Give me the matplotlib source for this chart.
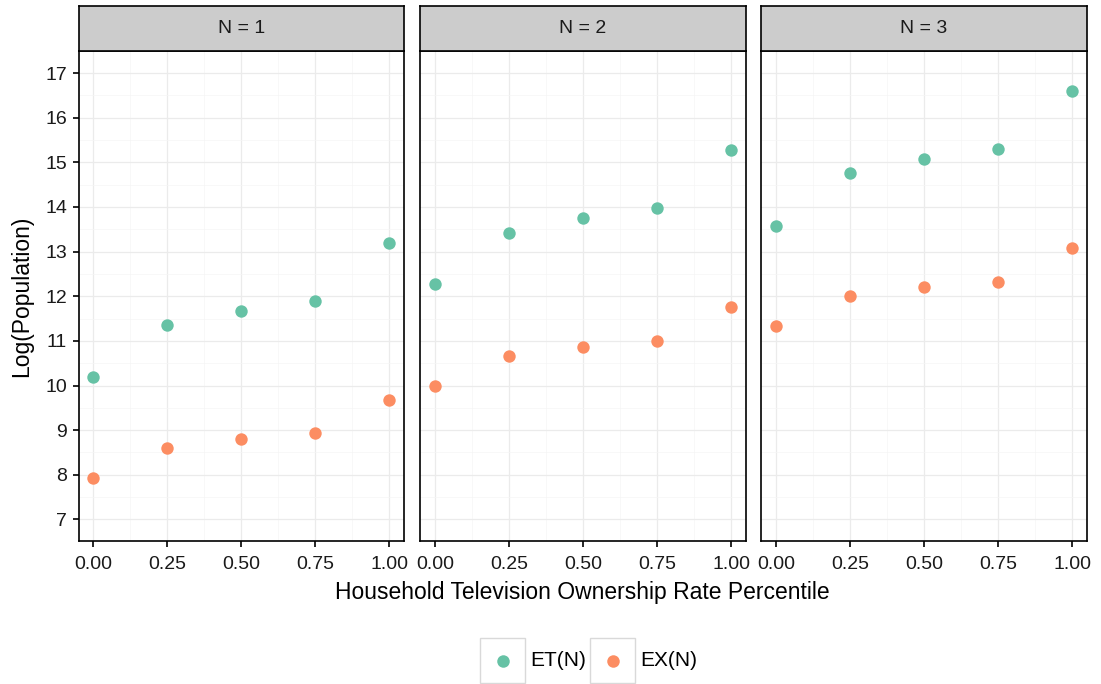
import numpy as np
import matplotlib.pyplot as plt
from matplotlib.patches import Rectangle

plt.rcParams['font.family'] = ['Liberation Sans', 'DejaVu Sans']

# Données
percentiles = [0.00, 0.25, 0.50, 0.75, 1.00]
panels = ['N = 1', 'N = 2', 'N = 3']
et_values = [
    [10.20, 11.35, 11.68, 11.90, 13.20],
    [12.27, 13.42, 13.75, 13.97, 15.27],
    [13.58, 14.75, 15.07, 15.30, 16.60],
]
ex_values = [
    [7.93, 8.60, 8.80, 8.93, 9.68],
    [10.00, 10.67, 10.87, 11.00, 11.75],
    [11.33, 12.00, 12.20, 12.32, 13.08],
]
series_names = ['ET(N)', 'EX(N)']
colors = ['#66C2A5', '#FC8D62']

W, H = 1101, 684
fig = plt.figure(figsize=(W / 100, H / 100), dpi=100)

lefts = [78.7, 420.3, 761.3]
pw = 325.5
top, bottom = 50.7, 541.3
strip_top = 5.7

for i, name in enumerate(panels):
    ax = fig.add_axes([lefts[i] / W, (H - bottom) / H, pw / W, (bottom - top) / H])
    ax.scatter(percentiles, et_values[i], s=80, color=colors[0], zorder=3, linewidths=0)
    ax.scatter(percentiles, ex_values[i], s=80, color=colors[1], zorder=3, linewidths=0)
    ax.set_xlim(-0.05, 1.05)
    ax.set_ylim(6.51, 17.5)
    ax.set_xticks(percentiles)
    ax.set_xticklabels([f'{p:.2f}' for p in percentiles])
    ax.set_xticks(np.arange(0.125, 1.0, 0.25), minor=True)
    ax.set_yticks(range(7, 18))
    ax.set_yticks(np.arange(7.5, 17.5, 1.0), minor=True)
    ax.grid(True, which='major', color='#EBEBEB', linewidth=0.9, zorder=0)
    ax.grid(True, which='minor', color='#F5F5F5', linewidth=0.5, zorder=0)
    ax.set_axisbelow(True)
    ax.tick_params(which='major', length=4.5, width=1.2, color='black', labelsize=14, labelcolor='#1A1A1A', pad=4)
    ax.tick_params(axis='x', which='major', pad=6)
    ax.tick_params(which='minor', length=0)
    if i > 0:
        ax.tick_params(axis='y', which='major', left=False, labelleft=False)
    for sp in ax.spines.values():
        sp.set_color('black')
        sp.set_linewidth(1.2)
    # bandeau
    sax = fig.add_axes([lefts[i] / W, (H - top) / H, pw / W, (top - strip_top) / H])
    sax.set_facecolor('#CCCCCC')
    sax.set_xticks([])
    sax.set_yticks([])
    for sp in sax.spines.values():
        sp.set_color('black')
        sp.set_linewidth(1.2)
    sax.text(0.5, 0.5, name, ha='center', va='center', fontsize=14, color='#1A1A1A', transform=sax.transAxes)

fig.text((lefts[0] + lefts[2] + pw) / 2 / W, 1 - 592 / H, 'Household Television Ownership Rate Percentile',
         ha='center', va='center', fontsize=16.5)
fig.text(22 / W, 1 - (top + bottom) / 2 / H, 'Log(Population)', ha='center', va='center',
         rotation=90, fontsize=16.5)

# Légende
key_x = [480, 590]
for k, label in enumerate(series_names):
    x0 = key_x[k]
    fig.patches.append(Rectangle((x0 / W, 1 - 683 / H), 45 / W, 45 / H, transform=fig.transFigure,
                                 facecolor='white', edgecolor='#D9D9D9', linewidth=1.0))
    fig.add_artist(plt.Line2D([(x0 + 22.5) / W], [1 - 661 / H], marker='o', markersize=9,
                              color=colors[k], markeredgewidth=0, transform=fig.transFigure))
    fig.text((x0 + 50) / W, 1 - 661 / H, label, ha='left', va='center', fontsize=15)

fig.savefig('out.png', dpi=100)
